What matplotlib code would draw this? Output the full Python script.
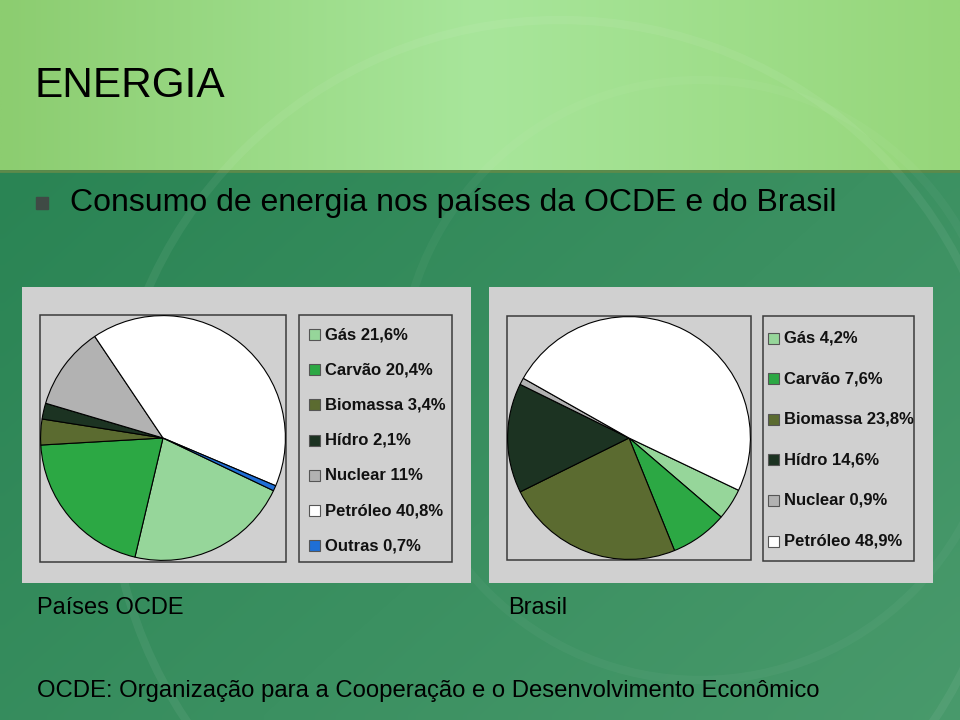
import numpy as np
import matplotlib
matplotlib.use("Agg")
import matplotlib.pyplot as plt
from matplotlib.patches import Rectangle, Circle

# dados
categorias_ocde = ["Gás", "Carvão", "Biomassa", "Hídro", "Nuclear", "Petróleo", "Outras"]
valores_ocde = [21.6, 20.4, 3.4, 2.1, 11, 40.8, 0.7]

categorias_brasil = ["Gás", "Carvão", "Biomassa", "Hídro", "Nuclear", "Petróleo"]
valores_brasil = [4.2, 7.6, 23.8, 14.6, 0.9, 48.9]

cores = {
    "Gás": "#96D69A",
    "Carvão": "#2CA844",
    "Biomassa": "#5B6B30",
    "Hídro": "#1C3322",
    "Nuclear": "#B2B2B2",
    "Petróleo": "#FFFFFF",
    "Outras": "#1F6FD6",
}

TITULO = "ENERGIA"
TOPICO = "Consumo de energia nos países da OCDE e do Brasil"
ROTULO_OCDE = "Países OCDE"
ROTULO_BRASIL = "Brasil"
RODAPE = "OCDE: Organização para a Cooperação e o Desenvolvimento Econômico"

W, H = 960, 720
FONTE = "Liberation Sans"


def fmt(v):
    return f"{v:g}".replace(".", ",") + "%"


fig = plt.figure(figsize=(9.6, 7.2), dpi=100)
bg = fig.add_axes([0, 0, 1, 1])
bg.set_xlim(0, W)
bg.set_ylim(H, 0)
bg.axis("off")

# faixa superior verde claro
xs = np.linspace(0, 1, 200)
topo = np.zeros((1, 200, 3))
c_esq = np.array([140, 205, 112]) / 255
c_meio = np.array([168, 230, 155]) / 255
c_dir = np.array([150, 214, 122]) / 255
for i, t in enumerate(xs):
    if t < 0.5:
        topo[0, i] = c_esq + (c_meio - c_esq) * (t / 0.5)
    else:
        topo[0, i] = c_meio + (c_dir - c_meio) * ((t - 0.5) / 0.5)
bg.imshow(topo, extent=(0, W, 170, 0), aspect="auto", interpolation="bilinear", zorder=0)

# parte inferior verde escuro
ny, nx = 60, 120
yy, xx = np.mgrid[0:1:ny * 1j, 0:1:nx * 1j]
a = np.array([42, 132, 84]) / 255
b = np.array([76, 156, 110]) / 255
mix = np.clip(0.55 * xx + 0.35 * yy, 0, 1)[..., None]
baixo = a + (b - a) * mix
bg.imshow(baixo, extent=(0, W, H, 170), aspect="auto", interpolation="bilinear", zorder=0)
bg.plot([0, W], [170.5, 170.5], color="#5E8A4A", lw=2.0, zorder=1)

# arcos decorativos (bem suaves)
for cx, cy, r, al in [(560, 470, 450, 0.06), (700, 380, 300, 0.035)]:
    bg.add_patch(Circle((cx, cy), r, fill=False, ec="white", lw=6, alpha=al, zorder=1))

# textos do slide
bg.text(35, 97, TITULO, fontsize=30.5, family=FONTE,
        va="baseline", ha="left", color="black", zorder=5)
bg.add_patch(Rectangle((36, 197), 12, 12, color="#3F4A45", zorder=5))
bg.text(70, 211, TOPICO, fontsize=23, family=FONTE,
        va="baseline", ha="left", color="black", zorder=5)
bg.text(37, 614, ROTULO_OCDE, fontsize=17, family=FONTE,
        va="baseline", ha="left", color="black", zorder=5)
bg.text(508, 614, ROTULO_BRASIL, fontsize=17, family=FONTE,
        va="baseline", ha="left", color="black", zorder=5)
bg.text(37, 697, RODAPE, fontsize=17.2, family=FONTE,
        va="baseline", ha="left", color="black", zorder=5)


def painel(x0, x1, caixa_pizza, caixa_leg, centro, raio, cats, vals, leg_x, leg_y0, leg_dy):
    bg.add_patch(Rectangle((x0, 287), x1 - x0, 296, fc="#D0D0D0", ec="none", zorder=2))
    for (bx0, by0, bx1, by1) in (caixa_pizza, caixa_leg):
        bg.add_patch(Rectangle((bx0, by0), bx1 - bx0, by1 - by0, fc="none",
                               ec="#3A3A3A", lw=1.1, zorder=3))
    cx, cy = centro
    ax = fig.add_axes([(cx - raio) / W, (H - cy - raio) / H, 2 * raio / W, 2 * raio / H])
    ax.pie(vals, colors=[cores[c] for c in cats], startangle=-25.5, counterclock=False,
           radius=1.0, wedgeprops=dict(edgecolor="black", linewidth=0.8))
    ax.set_xlim(-1.005, 1.005)
    ax.set_ylim(-1.005, 1.005)
    ax.set_aspect("equal")
    ax.axis("off")
    for i, (c, v) in enumerate(zip(cats, vals)):
        y = leg_y0 + i * leg_dy
        bg.add_patch(Rectangle((leg_x, y - 5.5), 11, 11, fc=cores[c], ec="#555555",
                               lw=0.8, zorder=4))
        bg.text(leg_x + 16, y, f"{c} {fmt(v)}", fontsize=12, family=FONTE,
                weight="bold", va="center", ha="left", color="#111111", zorder=4)


painel(22, 471, (40, 315, 286, 562), (299, 315, 452, 562), (163, 438), 123,
       categorias_ocde, valores_ocde, 309, 334.5, 35.2)
painel(489, 933, (507, 316, 751, 560), (763, 316, 914, 561), (629, 438), 122,
       categorias_brasil, valores_brasil, 768, 338, 40.6)

fig.savefig("out.png", dpi=100)
